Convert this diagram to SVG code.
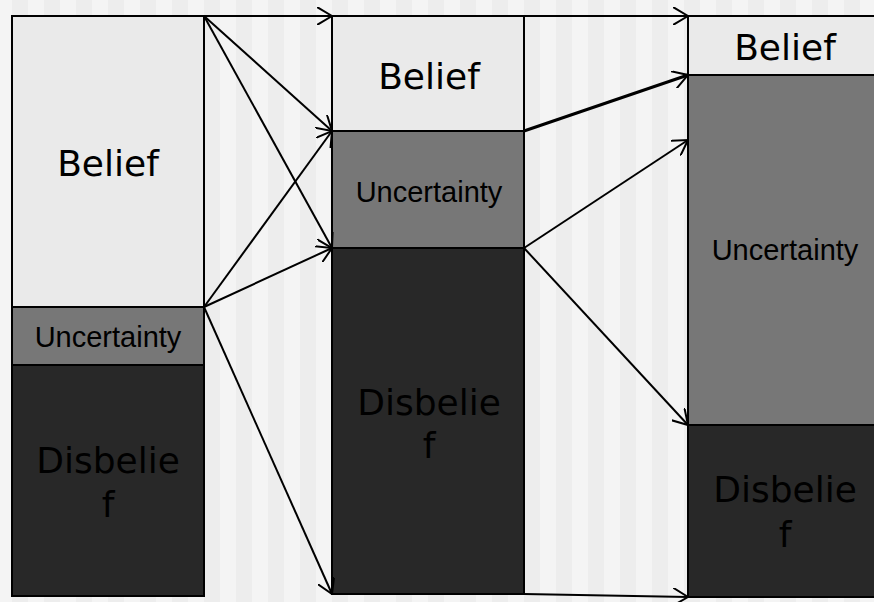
<svg xmlns="http://www.w3.org/2000/svg" width="874" height="602" viewBox="0 0 874 602">
<style>
.b{fill:#eaeaea;stroke:#000;stroke-width:2}
.u{fill:#777;stroke:#000;stroke-width:2}
.d{fill:#282828;stroke:#000;stroke-width:2}
.tb{font-family:"DejaVu Sans",sans-serif;font-size:36px;fill:#000;text-anchor:middle}
.tu{font-family:"Liberation Sans",Arial,sans-serif;font-size:29px;fill:#000;text-anchor:middle}
.td{font-family:"DejaVu Sans",sans-serif;font-size:36px;fill:#000;text-anchor:middle}
.c{stroke:#000;stroke-width:2;fill:none;marker-end:url(#ah)}
</style>
<defs>
<pattern id="stripes" x="12" y="0" width="32" height="602" patternUnits="userSpaceOnUse">
<rect x="0" y="0" width="16" height="602" fill="#ededed"/>
<rect x="16" y="0" width="16" height="602" fill="#f4f4f4"/>
</pattern>
<marker id="ah" viewBox="0 0 16 18" refX="15" refY="9" markerWidth="16" markerHeight="18" markerUnits="userSpaceOnUse" orient="auto">
<path d="M0,0 L15,9 L0,18" fill="none" stroke="#000" stroke-width="2"/>
</marker>
</defs>
<rect x="0" y="0" width="874" height="602" fill="#f4f4f4"/>
<rect x="12" y="0" width="862" height="602" fill="url(#stripes)"/>

<g id="col1-belief"><rect class="b" x="12" y="16" width="192" height="291"/><text class="tb" x="108" y="176">Belief</text></g>
<g id="col1-uncertainty"><rect class="u" x="12" y="307" width="192" height="58"/><text class="tu" x="108" y="347">Uncertainty</text></g>
<g id="col1-disbelief"><rect class="d" x="12" y="365" width="192" height="231"/><text class="td" x="108" y="473">Disbelie</text><text class="td" x="108" y="517">f</text></g>

<g id="col2-belief"><rect class="b" x="332" y="16" width="192" height="115"/><text class="tb" x="429" y="89">Belief</text></g>
<g id="col2-uncertainty"><rect class="u" x="332" y="131" width="192" height="117"/><text class="tu" x="429" y="202">Uncertainty</text></g>
<g id="col2-disbelief"><rect class="d" x="332" y="248" width="192" height="346"/><text class="td" x="429" y="415">Disbelie</text><text class="td" x="429" y="458">f</text></g>

<g id="col3-belief"><rect class="b" x="688" y="16" width="194" height="59"/><text class="tb" x="785" y="60">Belief</text></g>
<g id="col3-uncertainty"><rect class="u" x="688" y="75" width="194" height="350"/><text class="tu" x="785" y="260">Uncertainty</text></g>
<g id="col3-disbelief"><rect class="d" x="688" y="425" width="194" height="172"/><text class="td" x="785" y="502">Disbelie</text><text class="td" x="785" y="547">f</text></g>

<g id="connectors">
<line class="c" x1="204" y1="16" x2="332" y2="16"/>
<line class="c" x1="204" y1="16" x2="332" y2="131"/>
<line class="c" x1="204" y1="16" x2="332" y2="248"/>
<line class="c" x1="204" y1="307" x2="332" y2="131"/>
<line class="c" x1="204" y1="307" x2="332" y2="248"/>
<line class="c" x1="204" y1="307" x2="332" y2="594"/>
<line class="c" x1="524" y1="16" x2="688" y2="16"/>
<line class="c" x1="524" y1="131" x2="688" y2="75" style="stroke-width:3"/>
<line class="c" x1="524" y1="248" x2="688" y2="140"/>
<line class="c" x1="524" y1="248" x2="688" y2="425"/>
<line class="c" x1="524" y1="594" x2="688" y2="597"/>
</g>
</svg>
